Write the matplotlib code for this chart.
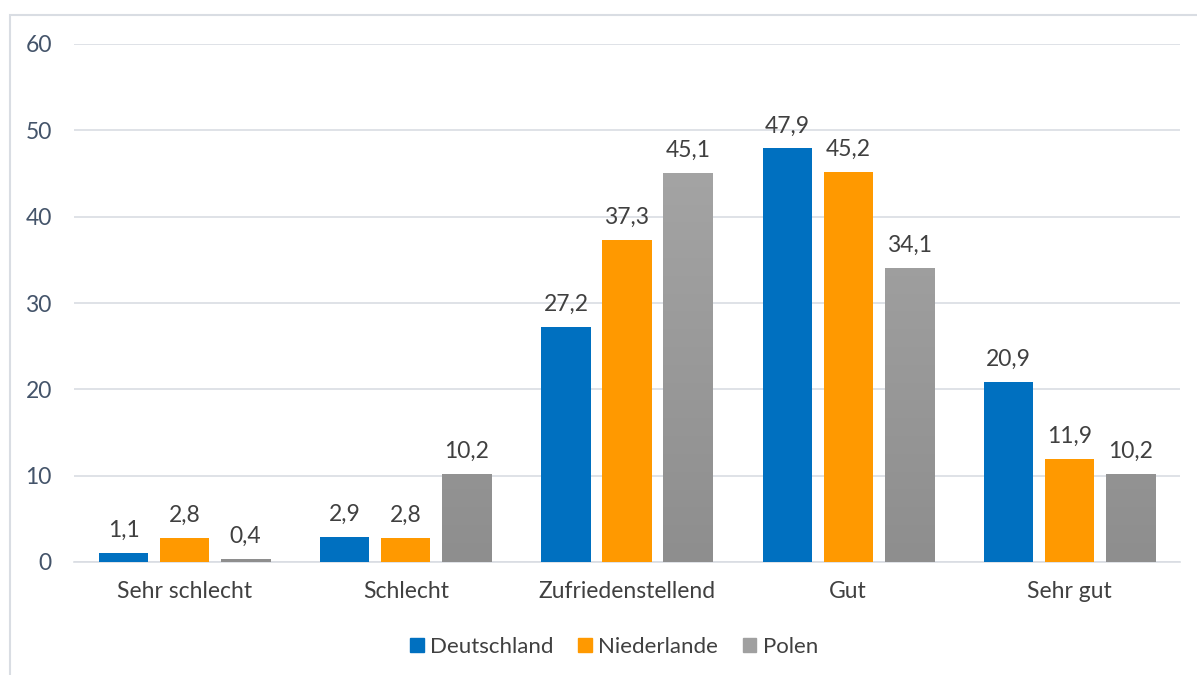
import numpy as np
import matplotlib.pyplot as plt
from matplotlib.patches import Rectangle, Patch
from matplotlib.colors import LinearSegmentedColormap

plt.rcParams['font.family'] = ['Lato', 'DejaVu Sans']

categories = ['Sehr schlecht', 'Schlecht', 'Zufriedenstellend', 'Gut', 'Sehr gut']
deutschland = [1.1, 2.9, 27.2, 47.9, 20.9]
niederlande = [2.8, 2.8, 37.3, 45.2, 11.9]
polen = [0.4, 10.2, 45.1, 34.1, 10.2]

fig = plt.figure(figsize=(11.97, 6.75), dpi=100)
ax = fig.add_axes([74 / 1197, 113 / 675, 1106 / 1197, 518 / 675])

# Rahmen um das Diagramm
fig.patches.append(Rectangle((10 / 1197, -0.1), 1.2, (660 / 675) + 0.1,
                             transform=fig.transFigure, fill=False,
                             edgecolor='#d9dde3', lw=1.5))

x = np.arange(len(categories))
w = 0.222
off = 0.276
fs = 16.5

b1 = ax.bar(x - off, deutschland, w, color='#0070c0', label='Deutschland', zorder=3)
b2 = ax.bar(x, niederlande, w, color='#ff9900', label='Niederlande', zorder=3)
b3 = ax.bar(x + off, polen, w, color='#a0a0a0', label='Polen', zorder=3)

# Verlauf für Polen
grad = np.linspace(0, 1, 256).reshape(-1, 1)
cmap = LinearSegmentedColormap.from_list('g', ['#8e8e8e', '#ababab'])
for bar in b3:
    bx, bw = bar.get_x(), bar.get_width()
    im = ax.imshow(grad, extent=[bx, bx + bw, 0, 60], origin='lower', cmap=cmap,
                   aspect='auto', zorder=4)
    im.set_clip_path(bar)
    bar.set_alpha(0)

for bars, vals in [(b1, deutschland), (b2, niederlande), (b3, polen)]:
    for bar, v in zip(bars, vals):
        ax.text(bar.get_x() + bar.get_width() / 2, v + 1.4, f'{v:.1f}'.replace('.', ','),
                ha='center', va='bottom', fontsize=fs, color='#404040')

ax.set_xlim(-0.5, 4.5)
ax.set_ylim(0, 60)
ax.set_yticks(range(0, 61, 10))
ax.set_xticks(x)
ax.set_xticklabels(categories)
ax.grid(axis='y', color='#d9dde3', lw=1.2, zorder=0)
for s in ['top', 'right', 'left']:
    ax.spines[s].set_visible(False)
ax.spines['bottom'].set_color('#d9dde3')
ax.spines['bottom'].set_linewidth(1.2)
ax.tick_params(axis='both', length=0, labelsize=fs)
ax.tick_params(axis='y', colors='#44546a', pad=16)
ax.tick_params(axis='x', colors='#404040', pad=14)

handles = [Patch(color='#0070c0'), Patch(color='#ff9900'), Patch(color='#a0a0a0')]
fig.legend(handles, ['Deutschland', 'Niederlande', 'Polen'], loc='center',
           bbox_to_anchor=(614 / 1197, 28 / 675), ncol=3, frameon=False,
           fontsize=16, handlelength=0.6, handleheight=0.6, handletextpad=0.3,
           columnspacing=1.1, labelcolor='#404040')

fig.savefig('out.png', dpi=100)
